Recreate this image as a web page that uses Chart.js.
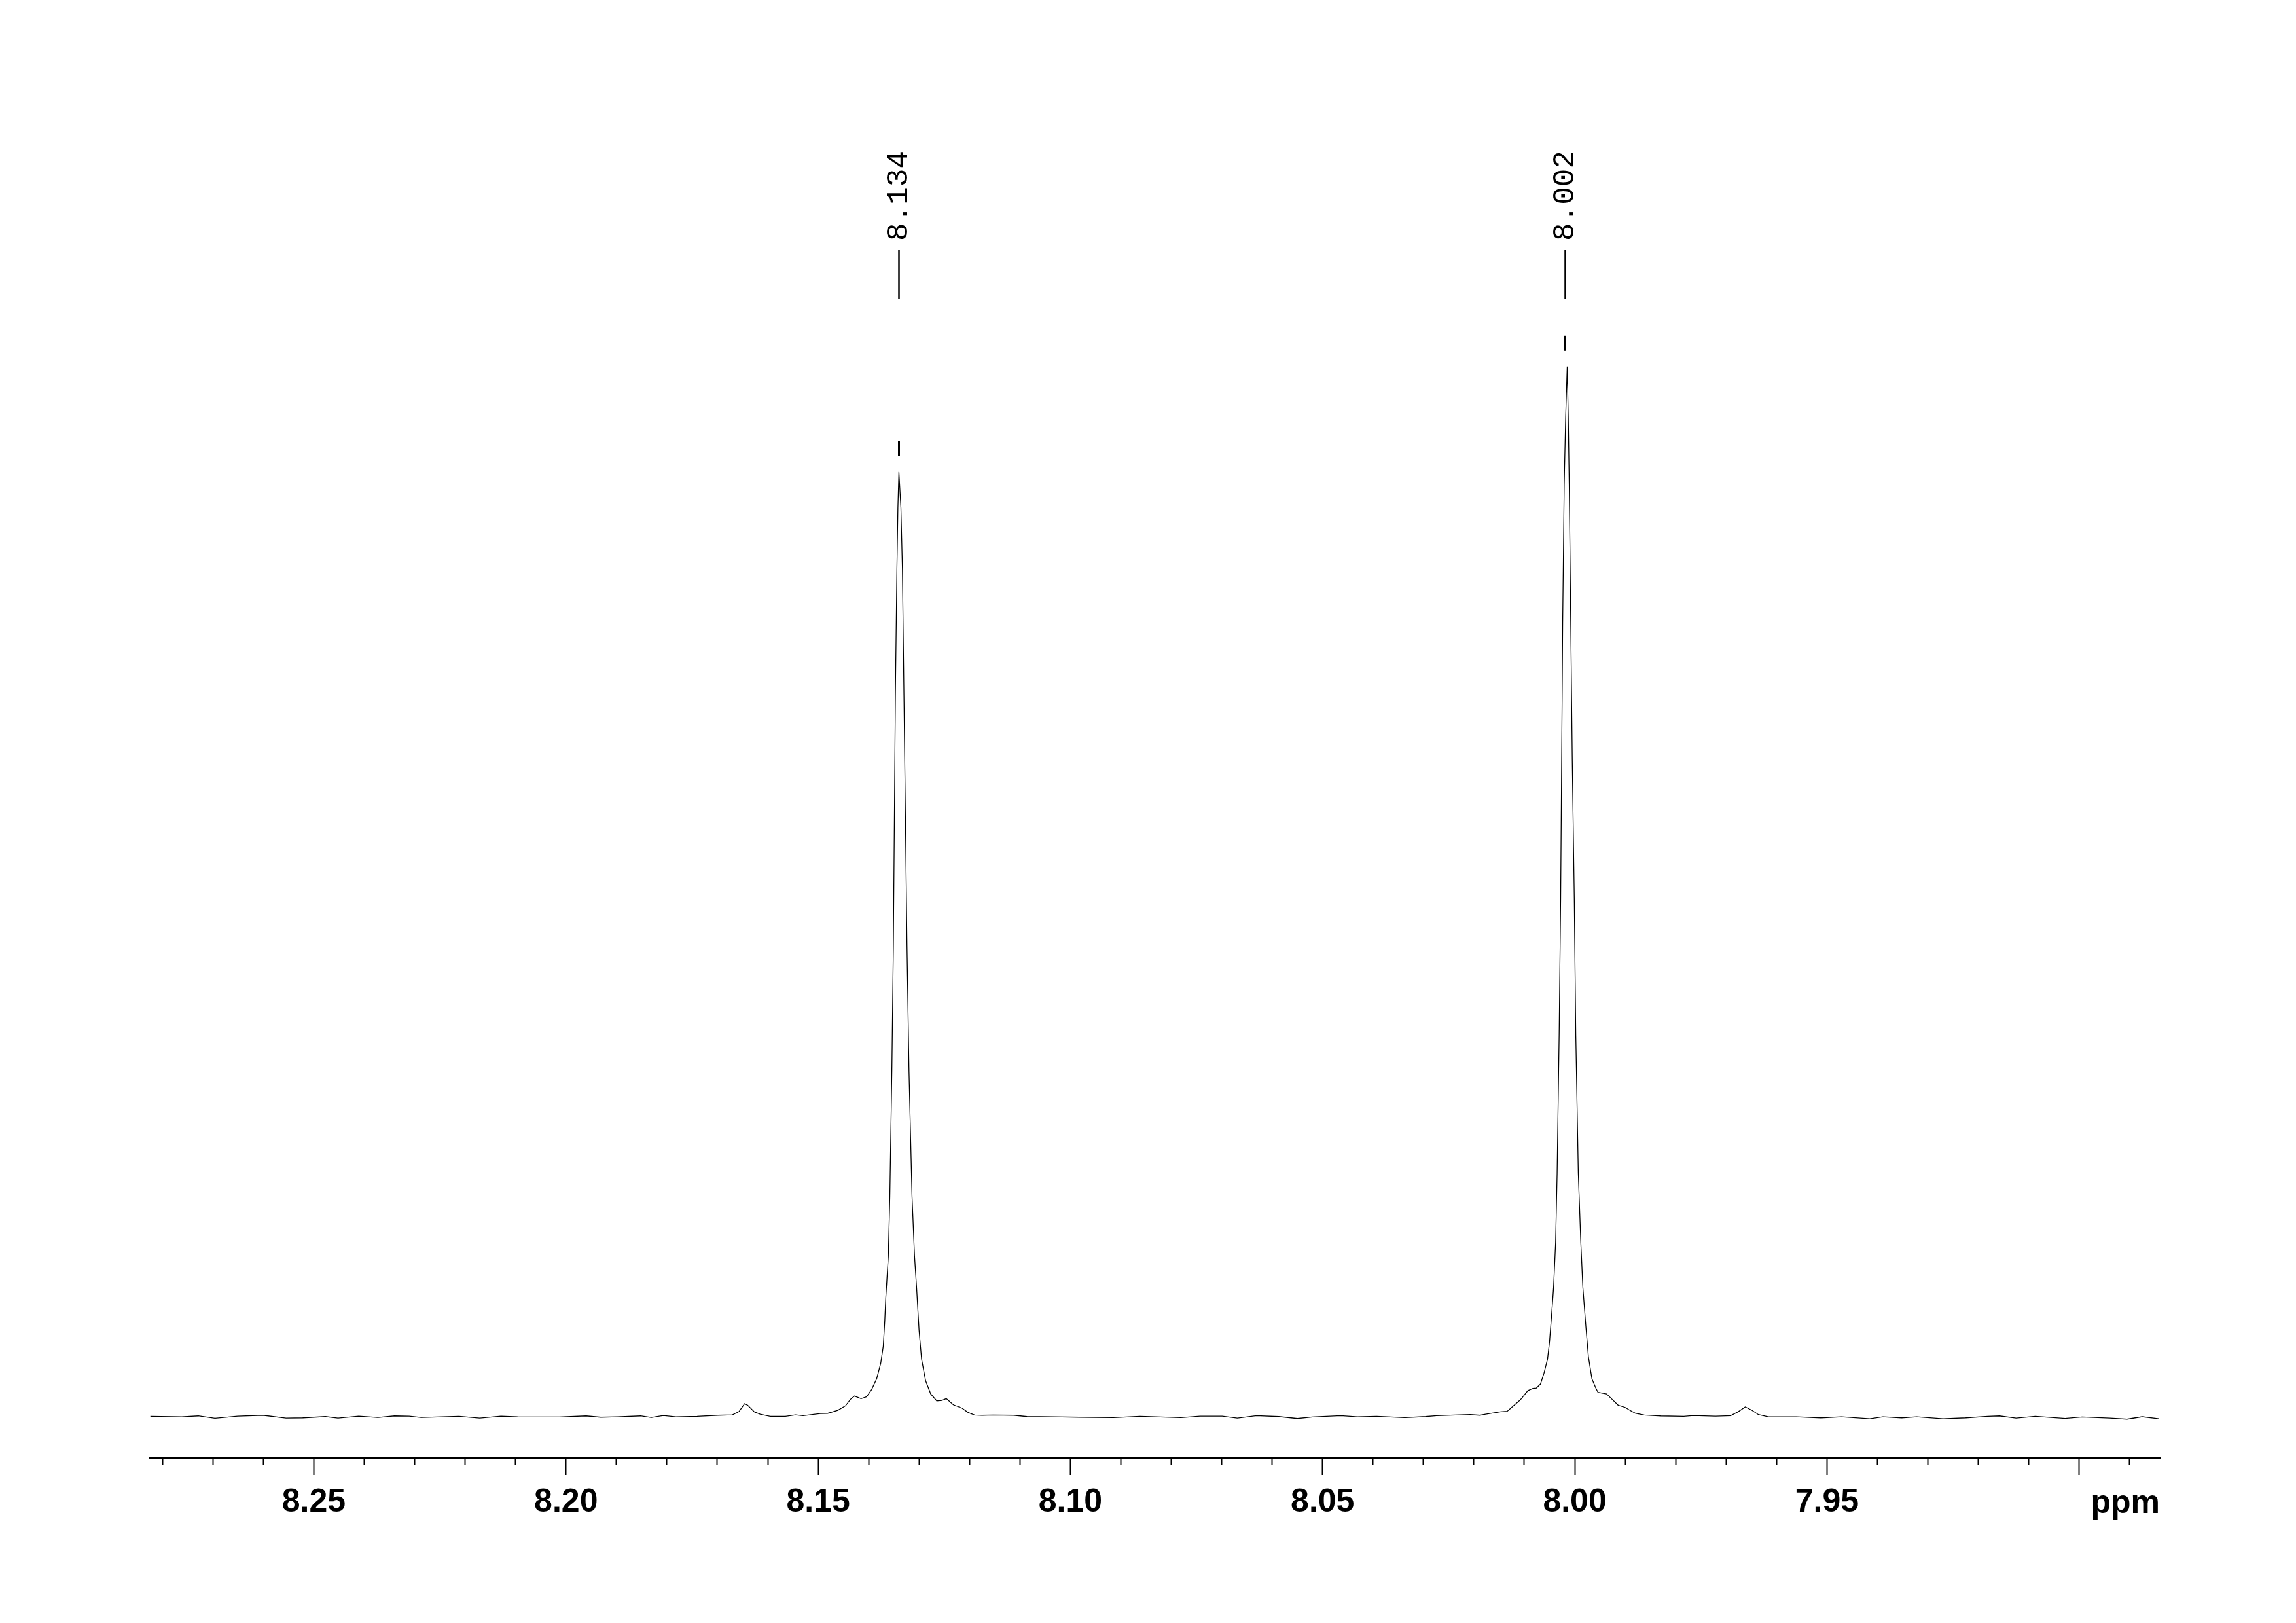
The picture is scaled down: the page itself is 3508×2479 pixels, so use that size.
<!DOCTYPE html>
<html>
<head>
<meta charset="utf-8">
<script src="https://cdn.jsdelivr.net/npm/chart.js@4.4.0/dist/chart.umd.min.js"></script>
<style>
  html, body { margin: 0; padding: 0; background: #fff; }
  canvas { display: block; }
</style>
</head>
<body>
<canvas id="spectrum" width="3508" height="2479"></canvas>
<script>
// chemical shift (ppm) and intensity, left to right
const ppmValues = [
  8.2824, 8.2762, 8.2729, 8.2696, 8.2651, 8.2601, 8.2555, 8.2522, 8.2477, 8.2452,
  8.2411, 8.2373, 8.2340, 8.2311, 8.2287, 8.2245, 8.2212, 8.2171, 8.2129, 8.2096,
  8.2055, 8.2013, 8.1960, 8.1931, 8.1898, 8.1852, 8.1831, 8.1807, 8.1782, 8.1740,
  8.1699, 8.1670, 8.1657, 8.1646, 8.1640, 8.1627, 8.1615, 8.1595, 8.1565, 8.1545,
  8.1530, 8.1496, 8.1481, 8.1461, 8.1446, 8.1436, 8.1428, 8.1415, 8.1404, 8.1394,
  8.1384, 8.1376, 8.1371, 8.1368, 8.1366, 8.1361, 8.1358, 8.1354, 8.1351, 8.1349,
  8.1347, 8.1344, 8.1342, 8.1340, 8.1336, 8.1333, 8.1330, 8.1327, 8.1324, 8.1320,
  8.1314, 8.1309, 8.1305, 8.1300, 8.1295, 8.1287, 8.1277, 8.1265, 8.1255, 8.1246,
  8.1232, 8.1215, 8.1203, 8.1190, 8.1175, 8.1153, 8.1112, 8.1086, 8.1034, 8.0982,
  8.0915, 8.0862, 8.0781, 8.0743, 8.0699, 8.0669, 8.0631, 8.0587, 8.0550, 8.0520,
  8.0464, 8.0431, 8.0393, 8.0337, 8.0296, 8.0274, 8.0237, 8.0207, 8.0188, 8.0177,
  8.0147, 8.0134, 8.0123, 8.0108, 8.0093, 8.0083, 8.0076, 8.0068, 8.0061, 8.0054,
  8.0050, 8.0046, 8.0042, 8.0038, 8.0035, 8.0031, 8.0028, 8.0026, 8.0024, 8.0021,
  8.0018, 8.0015, 8.0013, 8.0011, 8.0008, 8.0005, 8.0001, 7.9998, 7.9993, 7.9988,
  7.9984, 7.9978, 7.9973, 7.9966, 7.9959, 7.9954, 7.9937, 7.9926, 7.9914, 7.9900,
  7.9891, 7.9880, 7.9862, 7.9829, 7.9784, 7.9765, 7.9721, 7.9691, 7.9676, 7.9662,
  7.9649, 7.9636, 7.9616, 7.9561, 7.9512, 7.9471, 7.9415, 7.9389, 7.9352, 7.9322,
  7.9270, 7.9225, 7.9181, 7.9158, 7.9125, 7.9087, 7.9028, 7.8994, 7.8939, 7.8905,
  7.8875, 7.8842
];
const intensityValues = [
  0.7, 0, 1.3, -2.3, 1, 2.3, -2, -1.7, 0.3, -2,
  1, -1, 1.3, 1, -1, 0, 0.7, -2, 1, 0,
  -0.3, -0.3, 1.3, -0.7, 0, 1.3, -1, 2, 0, 0.7,
  2.3, 3, 8, 20, 17.7, 7.7, 4, 0.7, 0.7, 3,
  1.7, 5, 5.3, 10, 16.7, 26.7, 31.7, 27.7, 30.7, 41.7,
  58.3, 82, 108, 147, 182, 245, 337, 528, 720, 911,
  1102, 1294, 1389, 1444, 1389, 1294, 1102, 911, 720, 528,
  337, 245, 198, 132, 88, 55, 35, 24.3, 25, 27.7,
  18.3, 13.3, 6.7, 2.7, 2.3, 2.7, 2.3, 0.3, 0, -0.7,
  -1.3, 0.7, -1.3, 1, 1, -2, 1.7, 0.3, -2.7, -0.3,
  1.7, 0, 0.7, -1.3, 0.3, 1.7, 2.7, 3.3, 2.3, 4,
  7.7, 8.3, 15.7, 25.7, 40, 43.3, 44, 50, 66.7, 88.3,
  115, 155, 198, 266, 372, 583, 793, 1004, 1214, 1425,
  1530, 1605, 1530, 1425, 1214, 1004, 793, 583, 372, 266,
  198, 138, 92, 58, 45, 37.3, 35, 26.7, 17.7, 14.3,
  10, 5.5, 2.7, 1.3, 0.7, 2, 1, 1.7, 7.7, 15,
  10, 3.3, 0, 0, -1.7, 0, -3, 0, -1.7, 0,
  -3, -1.7, 0.7, 1.3, -2, 0.7, -2.5, -0.3, -2, -3.7,
  0, -3
];

const majorTickValues = [8.25, 8.20, 8.15, 8.10, 8.05, 8.00, 7.95, 7.90];
const majorTickLabels = ['8.25', '8.20', '8.15', '8.10', '8.05', '8.00', '7.95', ''];
const peakPositions = [8.134, 8.002];
const peakLabels = ['8.134', '8.002'];
const axisUnit = 'ppm';

const majorIndex = v => majorTickValues.findIndex(m => Math.abs(m - v) < 1e-6);

// peak picking labels above the peaks + unit at the end of the axis
const peakMarkers = {
  id: 'peakMarkers',
  afterDatasetsDraw(chart) {
    const { ctx, chartArea, scales: { x, y } } = chart;
    ctx.save();
    ctx.strokeStyle = '#000';
    ctx.fillStyle = '#000';
    peakPositions.forEach((pos, i) => {
      const px = Math.round(x.getPixelForValue(pos)) + 0.5;
      let top = 0;
      ppmValues.forEach((p, j) => {
        if (Math.abs(p - pos) < 0.002) top = Math.max(top, intensityValues[j]);
      });
      const py = y.getPixelForValue(top);
      ctx.lineWidth = 3;
      ctx.beginPath();
      ctx.moveTo(px, py - 47);
      ctx.lineTo(px, py - 24);
      ctx.stroke();
      ctx.lineWidth = 2.5;
      ctx.beginPath();
      ctx.moveTo(px, chartArea.top + 219);
      ctx.lineTo(px, chartArea.top + 294);
      ctx.stroke();
      ctx.save();
      ctx.translate(px, chartArea.top + 205);
      ctx.rotate(-Math.PI / 2);
      ctx.font = '46px "Liberation Mono", "DejaVu Sans Mono", monospace';
      ctx.textAlign = 'left';
      ctx.textBaseline = 'middle';
      ctx.fillText(peakLabels[i], 0, 0);
      ctx.restore();
    });
    ctx.font = 'bold 50px "Liberation Sans", Arial, sans-serif';
    ctx.textAlign = 'right';
    ctx.textBaseline = 'alphabetic';
    ctx.fillText(axisUnit, x.right, x.top + 84);
    ctx.restore();
  }
};

new Chart(document.getElementById('spectrum'), {
  type: 'line',
  data: {
    datasets: [{
      data: ppmValues.map((p, i) => ({ x: p, y: intensityValues[i] })),
      borderColor: '#000',
      borderWidth: 1.3,
      pointRadius: 0,
      tension: 0,
      fill: false
    }]
  },
  options: {
    responsive: false,
    animation: false,
    devicePixelRatio: 1,
    layout: { padding: { left: 229, right: 208, top: 163, bottom: 142 } },
    plugins: { legend: { display: false }, tooltip: { enabled: false } },
    scales: {
      x: {
        type: 'linear',
        reverse: true,
        min: 7.884,
        max: 8.2825,
        border: { display: true, color: '#000', width: 3 },
        grid: {
          drawOnChartArea: false,
          drawTicks: true,
          tickLength: 26,
          tickWidth: 2,
          tickColor: '#000',
          tickBorderDash: c => (c.tick && majorIndex(c.tick.value) < 0) ? [8, 200] : []
        },
        ticks: {
          stepSize: 0.01,
          includeBounds: false,
          autoSkip: false,
          maxRotation: 0,
          padding: 12,
          color: '#000',
          font: { family: '"Liberation Sans", Arial, sans-serif', size: 50, weight: 'bold' },
          callback: v => {
            const k = majorIndex(v);
            return k >= 0 ? majorTickLabels[k] : '';
          }
        }
      },
      y: { display: false, min: -63, max: 2002 }
    }
  },
  plugins: [peakMarkers]
});
</script>
</body>
</html>
